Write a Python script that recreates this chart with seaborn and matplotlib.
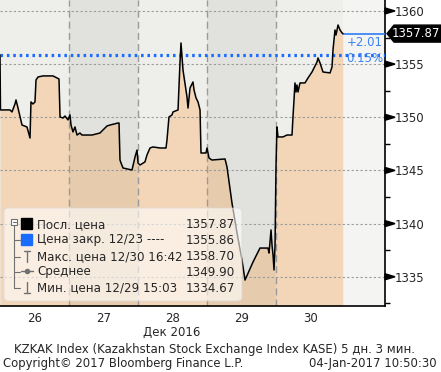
import numpy as np
import pandas as pd
import seaborn as sns
import matplotlib.pyplot as plt
from matplotlib.lines import Line2D
from matplotlib.patches import Polygon, FancyBboxPatch
from matplotlib.ticker import MultipleLocator, FixedLocator

# time in days since start of 26 Dec, price of KZKAK index
times = [0.000, 0.007, 0.145, 0.174, 0.217, 0.232, 0.261, 0.319, 0.391, 0.435,
         0.449, 0.478, 0.507, 0.522, 0.551, 0.623, 0.768, 0.855, 0.870, 0.913,
         0.942, 0.986, 1.014, 1.029, 1.058, 1.087, 1.116, 1.159, 1.188, 1.333,
         1.449, 1.493, 1.551, 1.594, 1.710, 1.725, 1.739, 1.754, 1.783, 1.913,
         1.957, 1.986, 2.000, 2.029, 2.101, 2.130, 2.174, 2.217, 2.319, 2.406,
         2.420, 2.449, 2.493, 2.507, 2.580, 2.609, 2.623, 2.638, 2.652, 2.710,
         2.725, 2.754, 2.797, 2.812, 2.841, 2.870, 2.899, 2.913, 2.986, 3.000,
         3.029, 3.072, 3.261, 3.290, 3.362, 3.435, 3.507, 3.551, 3.667, 3.768,
         3.884, 3.899, 3.928, 3.942, 3.957, 3.971, 3.986, 4.000, 4.014, 4.029,
         4.101, 4.159, 4.232, 4.246, 4.261, 4.275, 4.290, 4.304, 4.319, 4.348,
         4.420, 4.464, 4.522, 4.594, 4.609, 4.638, 4.681, 4.783, 4.812, 4.826,
         4.855, 4.870, 4.899, 4.928, 4.957, 4.971]
prices = [1355.86, 1350.69, 1350.69, 1350.50, 1351.25, 1351.63, 1350.87, 1349.27, 1349.09, 1348.05,
          1351.44, 1351.25, 1351.44, 1353.51, 1353.79, 1353.89, 1353.89, 1353.60, 1350.03, 1349.93,
          1350.12, 1349.75, 1350.22, 1349.27, 1348.62, 1349.09, 1348.33, 1348.52, 1348.33, 1348.33,
          1348.52, 1348.81, 1349.18, 1349.27, 1349.46, 1349.46, 1345.98, 1345.70, 1345.23, 1345.04,
          1346.27, 1346.92, 1345.70, 1345.51, 1345.80, 1346.45, 1347.11, 1347.21, 1347.11, 1347.11,
          1347.86, 1350.03, 1350.22, 1350.50, 1350.69, 1355.20, 1356.99, 1355.67, 1354.45, 1351.91,
          1350.87, 1352.76, 1353.32, 1352.57, 1351.82, 1351.44, 1350.69, 1346.64, 1346.64, 1347.11,
          1346.17, 1345.98, 1346.08, 1345.32, 1341.94, 1339.12, 1336.58, 1334.69, 1336.39, 1337.70,
          1337.70, 1337.23, 1339.40, 1337.99, 1337.05, 1335.64, 1337.99, 1345.32, 1349.09, 1348.15,
          1348.15, 1348.33, 1348.33, 1350.03, 1351.63, 1353.23, 1352.38, 1353.04, 1352.38, 1353.23,
          1353.23, 1353.70, 1354.26, 1355.20, 1355.58, 1355.11, 1354.26, 1354.17, 1354.73, 1356.33,
          1358.21, 1357.74, 1358.68, 1358.21, 1357.93, 1357.87]

day_labels = ['26', '27', '28', '29', '30']
last_price = 1357.87
prev_close = 1355.86
change_abs = '+2.01'
change_pct = '0.15%'
legend_names = ['Посл. цена', 'Цена закр. 12/23 ----', 'Макс. цена 12/30 16:42',
                'Среднее', 'Мин. цена 12/29 15:03']
legend_values = ['1357.87', '1355.86', '1358.70', '1349.90', '1334.67']

W, H = 441, 372
sns.set_style('white')
plt.rcParams['font.family'] = ['DejaVu Sans']
plt.rcParams['font.size'] = 8

df = pd.DataFrame({'t': times, 'price': prices})

fig = plt.figure(figsize=(W / 100, H / 100), dpi=100)
ax = fig.add_axes([0, 1 - 306 / H, 385 / W, 306 / H])
ymin, ymax = 1332.25, 1361.03
xmax = 385 / 69
ax.set_xlim(0, xmax)
ax.set_ylim(ymin, ymax)
ax.set_facecolor('#EEEFEA')


def px(x, y):
    return x / W, 1 - y / H


def yfig(v):
    return 1 - 306 / H + (v - ymin) / (ymax - ymin) * 306 / H


# area under the price line
ax.fill_between(df['t'], df['price'], ymin, color='#F3D6B7', lw=0, zorder=1)
sns.lineplot(data=df, x='t', y='price', color='black', lw=1.1, ax=ax, zorder=4)

# alternate day shading and future area
for d in [1, 3]:
    ax.axvspan(d, d + 1, color='black', alpha=0.05, lw=0, zorder=1.2)
ax.axvspan(times[-1], xmax, color='white', alpha=0.4, lw=0, zorder=1.2)

# grid
for v in range(1335, 1361, 5):
    ax.axhline(v, color='#9a9a9a', lw=0.8, ls=(0, (2, 2)), zorder=1.5)
for d in range(1, 5):
    ax.axvline(d, color='#9a9a9a', lw=1.0, ls=(0, (5, 3)), zorder=1.5)

# previous close and last price lines
ax.axhline(prev_close, color='#1a6cff', lw=2.3, ls=(0, (0.8, 1.2)), zorder=3)
ax.plot([times[-1], xmax], [last_price, last_price], color='#2f7cf6', lw=1.2, zorder=3)

# axes styling
for s in ['top', 'left']:
    ax.spines[s].set_visible(False)
for s in ['right', 'bottom']:
    ax.spines[s].set_color('black')
    ax.spines[s].set_linewidth(1.2)
ax.set_xlabel('')
ax.set_ylabel('')
ax.xaxis.set_major_locator(FixedLocator([0.5, 1.5, 2.5, 3.5, 4.5]))
ax.set_xticklabels(day_labels)
ax.tick_params(axis='x', length=0, pad=4, labelsize=8.5)
ax.yaxis.tick_right()
ax.yaxis.set_major_locator(MultipleLocator(5))
ax.yaxis.set_minor_locator(MultipleLocator(2.5))
ax.tick_params(axis='y', which='major', length=0, pad=7, labelsize=8.5)
ax.tick_params(axis='y', which='minor', length=3.5, width=1, color='black', direction='out')
for v in range(1335, 1361, 5):
    fy = yfig(v)
    tri = Polygon([(385 / W, fy + 3 / H), (385 / W, fy - 3 / H), (395 / W, fy)],
                  closed=True, color='black', transform=fig.transFigure)
    fig.add_artist(tri)

# last price tag
fy = yfig(last_price)
tag = Polygon([(387 / W, fy), (394 / W, fy + 8.5 / H), (441 / W, fy + 8.5 / H),
               (441 / W, fy - 8.5 / H), (394 / W, fy - 8.5 / H)],
              closed=True, color='black', transform=fig.transFigure)
fig.add_artist(tag)
fig.text(416 / W, fy, f'{last_price:.2f}', color='white', fontsize=8.5,
         ha='center', va='center')

# change annotations
fig.text(*px(383, 43), change_abs, color='#3b82f6', fontsize=8.5, ha='right', va='center')
fig.text(*px(383, 59), change_pct, color='#3b82f6', fontsize=8.5, ha='right', va='center')

# x-axis caption and footer
fig.text(*px(172, 332), 'Дек 2016', fontsize=8.5, ha='center', va='center')
fig.text(*px(215, 349), 'KZKAK Index (Kazakhstan Stock Exchange Index KASE) 5 дн. 3 мин.',
         fontsize=8.5, ha='center', va='center')
fig.text(*px(3, 364), 'Copyright© 2017 Bloomberg Finance L.P.', fontsize=8.4, ha='left', va='center')
fig.text(*px(437, 364), '04-Jan-2017 10:50:30', fontsize=8.4, ha='right', va='center')

# legend panel
box = FancyBboxPatch(px(4, 301), 238 / W, 93 / H, boxstyle='round,pad=0,rounding_size=0.01',
                     transform=fig.transFigure, facecolor='white', alpha=0.6,
                     edgecolor='#d8d8d8', lw=0.8)
fig.add_artist(box)
rows = [225, 240, 257, 272, 288]
gray = '#707070'
for i, (name, val) in enumerate(zip(legend_names, legend_values)):
    y = rows[i]
    fig.text(*px(37, y), name, fontsize=8.6, ha='left', va='center')
    fig.text(*px(235, y), val, fontsize=8.6, ha='right', va='center')
    if i > 0:
        fig.add_artist(Line2D(*zip(px(14, y), px(20, y)), color=gray, lw=0.8,
                              transform=fig.transFigure))
# tree trunk and collapse box
fig.add_artist(Line2D(*zip(px(14, 225), px(14, rows[-1])), color=gray, lw=0.8,
                      transform=fig.transFigure))
fig.add_artist(FancyBboxPatch(px(11, 225), 6 / W, 6 / H, boxstyle='square,pad=0',
                              transform=fig.transFigure, facecolor='white',
                              edgecolor=gray, lw=0.8))
fig.add_artist(Line2D(*zip(px(12.5, 222), px(15.5, 222)), color=gray, lw=0.8,
                      transform=fig.transFigure))
# icons
fig.add_artist(FancyBboxPatch(px(21, 229), 11 / W, 11 / H, boxstyle='square,pad=0',
                              transform=fig.transFigure, color='black'))
fig.add_artist(FancyBboxPatch(px(21, 245), 11 / W, 11 / H, boxstyle='square,pad=0',
                              transform=fig.transFigure, color='#1a6cff'))
for seg in [((27, 251), (27, 262)), ((24, 251), (30, 251)),
            ((21, 271), (33, 271)),
            ((27, 282), (27, 293)), ((24, 293), (30, 293))]:
    fig.add_artist(Line2D(*zip(px(*seg[0]), px(*seg[1])), color=gray, lw=1,
                          transform=fig.transFigure))
fig.add_artist(Line2D([27 / W], [1 - 271 / H], marker='o', ms=3, color=gray,
                      transform=fig.transFigure))

fig.savefig('out.png', dpi=100)
